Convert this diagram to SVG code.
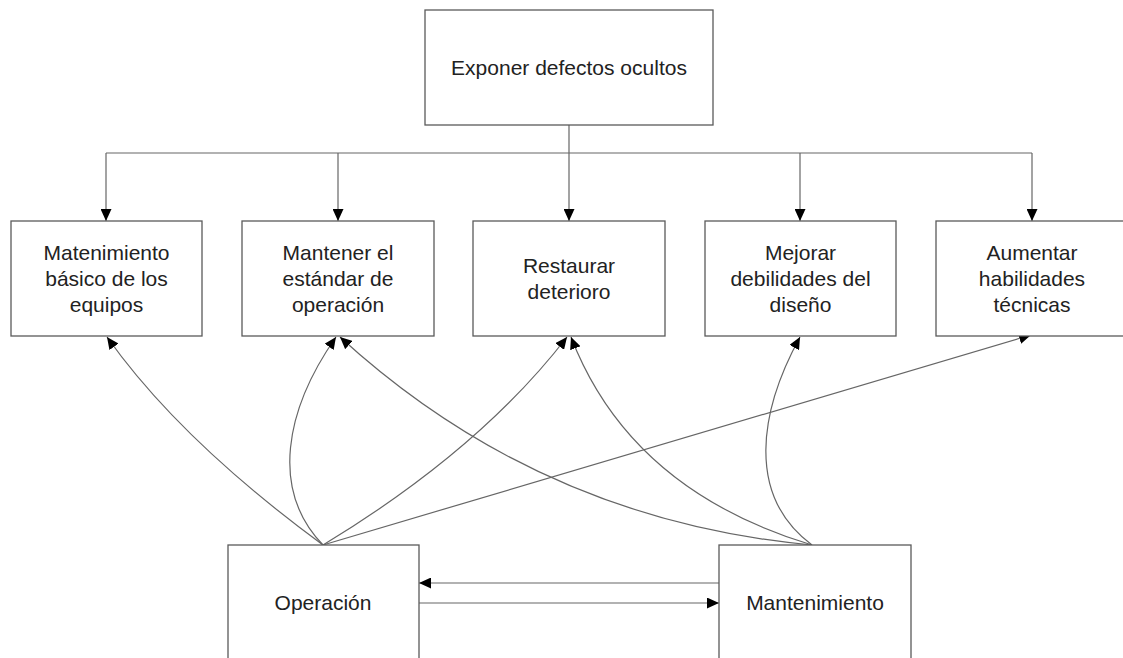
<svg xmlns="http://www.w3.org/2000/svg" width="1123" height="658" viewBox="0 0 1123 658">
<defs>
<marker id="ah" markerUnits="userSpaceOnUse" markerWidth="12" markerHeight="11" refX="12" refY="5.5" orient="auto">
<path d="M0,0 L12,5.5 L0,11 z" fill="#000"/>
</marker>
<style>
.box{fill:#fff;stroke:#5a5a5a;stroke-width:1.3}
.t{font-family:"Liberation Sans",Arial,sans-serif;font-size:21px;fill:#222;text-anchor:middle}
.c{fill:none;stroke:#666;stroke-width:1.2}
.a{marker-end:url(#ah)}
</style>
</defs>
<rect width="1123" height="658" fill="#fff"/>
<g id="connectors">
<path class="c" d="M569,125 V153 M106,153 H1032"/>
<path class="c a" d="M106,153 V221"/>
<path class="c a" d="M338,153 V221"/>
<path class="c a" d="M569,153 V221"/>
<path class="c a" d="M800,153 V221"/>
<path class="c a" d="M1032,153 V221"/>
<path class="c a" d="M323,545 Q180,440 107,337"/>
<path class="c a" d="M323,545 C270,490 285,410 336,337"/>
<path class="c a" d="M323,545 Q480,450 567,337"/>
<path class="c a" d="M323,545 L1031,335"/>
<path class="c a" d="M812,545 Q540,520 340,337"/>
<path class="c a" d="M812,545 Q630,490 571,337"/>
<path class="c a" d="M812,545 C745,495 760,410 800,337"/>
<path class="c a" d="M719,583 H419"/>
<path class="c a" d="M419,603 H719"/>
</g>
<g id="n_top"><rect class="box" x="425" y="10" width="288" height="115"/><text class="t" x="569" y="75">Exponer defectos ocultos</text></g>
<g id="n1"><rect class="box" x="11" y="221" width="191" height="115"/><text class="t" x="106.5" y="260">Matenimiento</text><text class="t" x="106.5" y="286">básico de los</text><text class="t" x="106.5" y="312">equipos</text></g>
<g id="n2"><rect class="box" x="242" y="221" width="192" height="115"/><text class="t" x="338" y="260">Mantener el</text><text class="t" x="338" y="286">estándar de</text><text class="t" x="338" y="312">operación</text></g>
<g id="n3"><rect class="box" x="473" y="221" width="192" height="115"/><text class="t" x="569" y="273">Restaurar</text><text class="t" x="569" y="299">deterioro</text></g>
<g id="n4"><rect class="box" x="705" y="221" width="191" height="115"/><text class="t" x="800.5" y="260">Mejorar</text><text class="t" x="800.5" y="286">debilidades del</text><text class="t" x="800.5" y="312">diseño</text></g>
<g id="n5"><rect class="box" x="936" y="221" width="192" height="115"/><text class="t" x="1032" y="260">Aumentar</text><text class="t" x="1032" y="286">habilidades</text><text class="t" x="1032" y="312">técnicas</text></g>
<g id="n_op"><rect class="box" x="228" y="545" width="191" height="120"/><text class="t" x="323" y="610">Operación</text></g>
<g id="n_mt"><rect class="box" x="719" y="545" width="192" height="120"/><text class="t" x="815" y="610">Mantenimiento</text></g>
</svg>
